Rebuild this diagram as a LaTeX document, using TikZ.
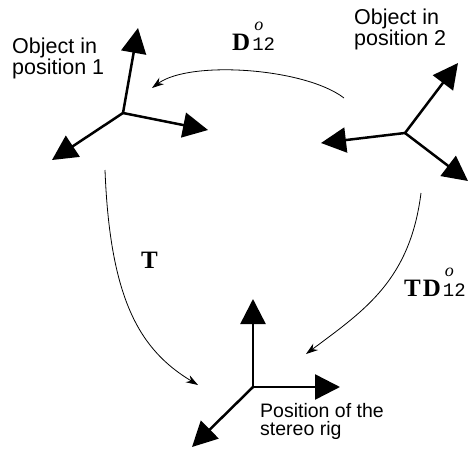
\documentclass[tikz,border=0pt]{standalone}
\usepackage{fontspec}
\setmainfont{Liberation Serif}
\setsansfont{Liberation Sans}
\setmonofont{Liberation Mono}
\usetikzlibrary{arrows.meta,positioning,calc}

% bold D with italic o above and typewriter 12 below
\newcommand{\dtwelve}{\textbf{D}\hspace{2pt}\rlap{\hspace{2pt}\raisebox{20pt}{\fontsize{18}{18}\selectfont\itshape o}}{\fontsize{19}{19}\selectfont\ttfamily 12}}

\tikzset{
	frameaxis/.style={line width=2.5pt, -{Triangle[length=25pt,width=25pt]}},
	motion/.style={line width=0.8pt, -{Stealth[length=12pt,width=8pt]}},
	caption/.style={font=\sffamily\fontsize{21.5}{20}\selectfont, align=left, inner sep=0pt, anchor=north west},
	rigcaption/.style={caption, font=\sffamily\fontsize{19.5}{18.5}\selectfont},
	matlabel/.style={font=\rmfamily\fontsize{25}{25}\selectfont, inner sep=0pt, anchor=base west}
}

\begin{document}
\begin{tikzpicture}[x=1pt,y=-1pt]
				\useasboundingbox (0,0) rectangle (469,450);
				
				% Object in position 1
				\coordinate (obj1) at (123,113);
				\coordinate (obj1up) at (138,28);
				\coordinate (obj1right) at (208,130);
				\coordinate (obj1left) at (52,160);
				\draw[frameaxis] (obj1) -- (obj1up);
				\draw[frameaxis] (obj1) -- (obj1right);
				\draw[frameaxis] (obj1) -- (obj1left);
				\node[caption] (cap1) at (12,38) {Object in\\position 1};
				
				% Object in position 2
				\coordinate (obj2) at (405,133);
				\coordinate (obj2up) at (458,63);
				\coordinate (obj2left) at (321,143);
				\coordinate (obj2down) at (468,181);
				\draw[frameaxis] (obj2) -- (obj2up);
				\draw[frameaxis] (obj2) -- (obj2left);
				\draw[frameaxis] (obj2) -- (obj2down);
				\node[caption] (cap2) at (354,9) {Object in\\position 2};
				
				% Stereo rig
				\coordinate (rig) at (253,387);
				\coordinate (rigup) at (253,299);
				\coordinate (rigright) at (340,387);
				\coordinate (rigleft) at (192,447);
				\draw[frameaxis] (rig) -- (rigup);
				\draw[frameaxis] (rig) -- (rigright);
				\draw[frameaxis] (rig) -- (rigleft);
				\node[rigcaption] (caprig) at (260,403) {Position of the\\stereo rig};
				
				% Transformations
				\coordinate (dstart) at (344,98);
				\coordinate (dend) at (152,88);
				\coordinate (tstart) at (105,170);
				\coordinate (tend) at (198,385);
				\coordinate (tdstart) at (421,193);
				\coordinate (tdend) at (306,354);
				\draw[motion] (dstart) .. controls (305,68) and (190,60) .. (dend);
				\draw[motion] (tstart) .. controls (110,300) and (140,350) .. (tend);
				\draw[motion] (tdstart) .. controls (410,280) and (365,310) .. (tdend);
				\node[matlabel] (dlabel) at (232,50) {\dtwelve};
				\node[matlabel] (tlabel) at (141,268) {\textbf{T}};
				\node[matlabel] (tdlabel) at (404,296) {\textbf{T}\hspace{2pt}\dtwelve};
			\end{tikzpicture}
\end{document}
